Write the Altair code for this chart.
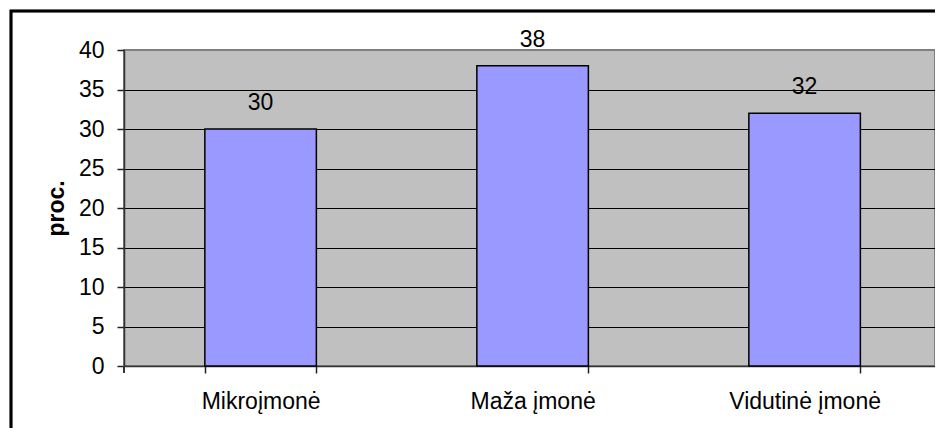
import altair as alt
import pandas as pd

categories = ["Mikroįmonė", "Maža įmonė", "Vidutinė įmonė"]
values = [30, 38, 32]
y_ticks = [0, 5, 10, 15, 20, 25, 30, 35, 40]

df = pd.DataFrame({"cat": categories, "val": values})

FONT = "Liberation Sans"
FS = 23
W, H = 811, 316

x_enc = alt.X(
    "cat:N",
    sort=categories,
    scale=alt.Scale(paddingInner=0.59, paddingOuter=0.2858, align=0.52),
    axis=alt.Axis(
        title=None,
        labelAngle=0,
        labelFont=FONT,
        labelFontSize=FS,
        labelColor="black",
        labelPadding=17,
        tickSize=7,
        tickColor="#222",
        tickWidth=1.5,
        tickBand="extent",
        domainColor="#333",
        domainWidth=1.5,
        grid=False,
    ),
)
y_enc = alt.Y(
    "val:Q",
    scale=alt.Scale(domain=[0, 40], nice=False),
    axis=alt.Axis(
        title="proc.",
        titleFont=FONT,
        titleFontSize=FS,
        titleFontWeight="bold",
        titleColor="black",
        titleAngle=270,
        titleAlign="center",
        titleBaseline="alphabetic",
        titleX=-61,
        titleY=H / 2,
        values=y_ticks,
        labelOverlap=False,
        labelFont=FONT,
        labelFontSize=FS,
        labelColor="black",
        labelPadding=13,
        tickSize=7,
        tickColor="#222",
        tickWidth=1.5,
        domainColor="#333",
        domainWidth=1.5,
        grid=True,
        gridColor=alt.condition("datum.value == 40", alt.value("#808080"), alt.value("black")),
        gridWidth=1,
    ),
)

frame = alt.Chart(df).mark_rect(fill=None, stroke="black", strokeWidth=2.5).encode(
    x=alt.value(-113), x2=alt.value(W + 40), y=alt.value(-39), y2=alt.value(H + 120)
)

bars = alt.Chart(df).mark_bar(color="#9999FF", stroke="black", strokeWidth=1.5).encode(
    x=x_enc, y=y_enc
)

labels = alt.Chart(df).mark_text(
    font=FONT, fontSize=FS, color="black", baseline="alphabetic", dy=-19
).encode(
    x=x_enc,
    y=y_enc,
    text=alt.Text("val:Q"),
)

axis_ext = alt.Chart(df).mark_rule(color="#333", strokeWidth=1.5).encode(
    x=alt.value(0), y=alt.value(H), y2=alt.value(H + 7)
)

chart = (
    alt.layer(frame, bars, labels, axis_ext)
    .properties(
        width=W,
        height=H,
        autosize=alt.AutoSizeParams(type="none"),
        padding={"left": 116, "top": 42, "right": 0, "bottom": 62},
        background="white",
    )
    .configure_view(fill="#C0C0C0", stroke="#808080", strokeWidth=2)
)

chart.save("out.html", embed_options={"renderer": "svg", "actions": False})
